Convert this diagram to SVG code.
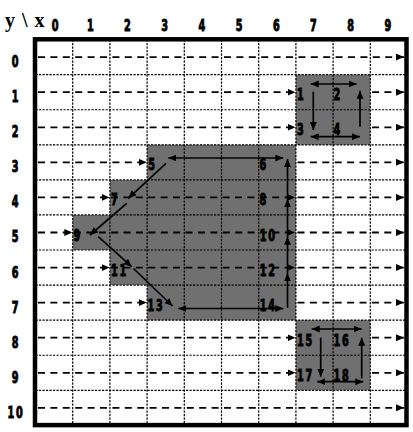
<svg xmlns="http://www.w3.org/2000/svg" width="413" height="432" viewBox="0 0 413 432">
<defs>
<marker id="ah" markerUnits="userSpaceOnUse" markerWidth="9" markerHeight="8" refX="8" refY="3.5" orient="auto-start-reverse" viewBox="0 0 9 8"><path d="M0,0 L8,3.5 L0,7 Z" fill="#000"/></marker>
<marker id="ad" markerUnits="userSpaceOnUse" markerWidth="9" markerHeight="8" refX="8" refY="3.5" orient="auto" viewBox="0 0 9 8"><path d="M0,0 L8,3.5 L0,7 Z" fill="#000"/></marker>
</defs>
<style>
.g{fill:#707070}
.dot{stroke:#000;stroke-width:1.2;stroke-dasharray:2.2 1.3;fill:none}
.dash{stroke:#000;stroke-width:1.8;stroke-dasharray:7 5.4;fill:none;marker-end:url(#ad)}
.s{stroke:#000;stroke-width:1.7;fill:none;marker-end:url(#ah)}
.d{stroke:#000;stroke-width:1.7;fill:none;marker-end:url(#ah);marker-start:url(#ah)}
.n{font-family:"DejaVu Sans Condensed","Liberation Sans Narrow","Liberation Sans",sans-serif;font-weight:bold;font-size:15px;letter-spacing:2.6px;fill:#000;stroke:#000;stroke-width:0.9}
.rl{text-anchor:middle}
.t{font-family:"Liberation Serif",serif;font-weight:bold;font-size:20px;letter-spacing:1px;fill:#000}
</style>
<rect width="413" height="432" fill="#fff"/>
<g id="regions">
<rect class="g" x="295.9" y="74.67" width="74.4" height="70.14"/>
<polygon class="g" points="147.1,144.81 295.9,144.81 295.9,320.16 147.1,320.16 147.1,285.09 109.9,285.09 109.9,250.02 72.7,250.02 72.7,214.95 109.9,214.95 109.9,179.88 147.1,179.88"/>
<rect class="g" x="295.9" y="320.16" width="74.4" height="70.14"/>
</g>
<g id="grid">
<path class="dot" d="M72.7,39.6V425.4M109.9,39.6V425.4M147.1,39.6V425.4M184.3,39.6V425.4M221.5,39.6V425.4M258.7,39.6V425.4M295.9,39.6V425.4M333.1,39.6V425.4M370.3,39.6V425.4"/>
<path class="dot" d="M35.5,74.67H407M35.5,109.74H407M35.5,144.81H407M35.5,179.88H407M35.5,214.95H407M35.5,250.02H407M35.5,285.09H407M35.5,320.16H407M35.5,355.23H407M35.5,390.3H407"/>
</g>
<g id="connectors">
<path class="dash" d="M38,57.1H404"/>
<path class="dash" d="M38,92.2H295.5"/><path class="dash" d="M372,92.2H404"/>
<path class="dash" d="M38,127.3H295.5"/><path class="dash" d="M372,127.3H404"/>
<path class="dash" d="M38,162.3H146.7"/><path class="dash" d="M297.5,162.3H404"/>
<path class="dash" d="M38,197.4H109.5"/><path class="dash" d="M111,197.4H295"/><path class="dash" d="M297.5,197.4H404"/>
<path class="dash" d="M38,232.5H72.3"/><path class="dash" d="M74,232.5H295"/><path class="dash" d="M297.5,232.5H404"/>
<path class="dash" d="M38,267.6H109.5"/><path class="dash" d="M111,267.6H295"/><path class="dash" d="M297.5,267.6H404"/>
<path class="dash" d="M38,302.6H146.7"/><path class="dash" d="M297.5,302.6H404"/>
<path class="dash" d="M38,337.7H295.5"/><path class="dash" d="M372,337.7H404"/>
<path class="dash" d="M38,372.8H295.5"/><path class="dash" d="M372,372.8H404"/>
<path class="dash" d="M38,407.8H404"/>
<path class="d" d="M310.7,84H356.7"/>
<path class="s" d="M313.3,91.7V130"/>
<path class="s" d="M360,126.7V90.7"/>
<path class="d" d="M310.7,136.7H360"/>
<path class="d" d="M311.7,329H361.7"/>
<path class="s" d="M320.7,337.7V376.7"/>
<path class="s" d="M361.7,378.3V337.7"/>
<path class="d" d="M317.3,381.7H363.3"/>
<path class="d" d="M168.3,158H283.3"/>
<path class="s" d="M166,163.3L128.3,198.3"/>
<path class="s" d="M126.7,203.3L90,235"/>
<path class="s" d="M98.3,236.7L131.7,266.7"/>
<path class="s" d="M133.5,268.5L172.5,306"/>
<path class="d" d="M178.3,308.5H283.3"/>
<path class="s" d="M287.5,308V273.3"/>
<path class="s" d="M287.5,273.3V236.7"/>
<path class="s" d="M287.5,236.7V199.3"/>
<path class="s" d="M287.5,199.3V159"/>
</g>
<g id="axes">
<text class="t" x="5" y="26.5">y \ x</text>
<text class="n rl" transform="translate(56 30.5) scale(0.72 1)">0</text>
<text class="n rl" transform="translate(91.4 30.5) scale(0.72 1)">1</text>
<text class="n rl" transform="translate(128.4 30.5) scale(0.72 1)">2</text>
<text class="n rl" transform="translate(165.6 30.5) scale(0.72 1)">3</text>
<text class="n rl" transform="translate(202.8 30.5) scale(0.72 1)">4</text>
<text class="n rl" transform="translate(240 30.5) scale(0.72 1)">5</text>
<text class="n rl" transform="translate(277.2 30.5) scale(0.72 1)">6</text>
<text class="n rl" transform="translate(314.4 30.5) scale(0.72 1)">7</text>
<text class="n rl" transform="translate(351.6 30.5) scale(0.72 1)">8</text>
<text class="n rl" transform="translate(388.8 30.5) scale(0.72 1)">9</text>
<text class="n rl" transform="translate(16 67) scale(0.72 1)">0</text>
<text class="n rl" transform="translate(16 102.1) scale(0.72 1)">1</text>
<text class="n rl" transform="translate(16 137.2) scale(0.72 1)">2</text>
<text class="n rl" transform="translate(16 172.2) scale(0.72 1)">3</text>
<text class="n rl" transform="translate(16 207.3) scale(0.72 1)">4</text>
<text class="n rl" transform="translate(16 242.4) scale(0.72 1)">5</text>
<text class="n rl" transform="translate(16 277.5) scale(0.72 1)">6</text>
<text class="n rl" transform="translate(16 312.5) scale(0.72 1)">7</text>
<text class="n rl" transform="translate(16 347.6) scale(0.72 1)">8</text>
<text class="n rl" transform="translate(16 382.7) scale(0.72 1)">9</text>
<text class="n rl" transform="translate(16 417.7) scale(0.72 1)">10</text>
</g>
<g id="n1"><text class="n" transform="translate(296.9 100.2) scale(0.72 1)">1</text></g>
<g id="n2"><text class="n" transform="translate(333.5 100.2) scale(0.72 1)">2</text></g>
<g id="n3"><text class="n" transform="translate(296.9 135.3) scale(0.72 1)">3</text></g>
<g id="n4"><text class="n" transform="translate(333.5 135.3) scale(0.72 1)">4</text></g>
<g id="n5"><text class="n" transform="translate(148.3 170.3) scale(0.72 1)">5</text></g>
<g id="n6"><text class="n" transform="translate(259.5 170.3) scale(0.72 1)">6</text></g>
<g id="n7"><text class="n" transform="translate(110.9 205.4) scale(0.72 1)">7</text></g>
<g id="n8"><text class="n" transform="translate(259.5 205.4) scale(0.72 1)">8</text></g>
<g id="n9"><text class="n" transform="translate(73.4 240.5) scale(0.72 1)">9</text></g>
<g id="n10"><text class="n" transform="translate(259.7 240.5) scale(0.72 1)">10</text></g>
<g id="n11"><text class="n" transform="translate(110.9 275.6) scale(0.72 1)">11</text></g>
<g id="n12"><text class="n" transform="translate(259.7 275.6) scale(0.72 1)">12</text></g>
<g id="n13"><text class="n" transform="translate(147.5 310.6) scale(0.72 1)">13</text></g>
<g id="n14"><text class="n" transform="translate(259.7 310.6) scale(0.72 1)">14</text></g>
<g id="n15"><text class="n" transform="translate(296.9 345.7) scale(0.72 1)">15</text></g>
<g id="n16"><text class="n" transform="translate(333.5 345.7) scale(0.72 1)">16</text></g>
<g id="n17"><text class="n" transform="translate(296.9 380.8) scale(0.72 1)">17</text></g>
<g id="n18"><text class="n" transform="translate(333.5 380.8) scale(0.72 1)">18</text></g>
<rect x="35" y="39.3" width="371.5" height="385.8" fill="none" stroke="#000" stroke-width="4.5"/>
</svg>
